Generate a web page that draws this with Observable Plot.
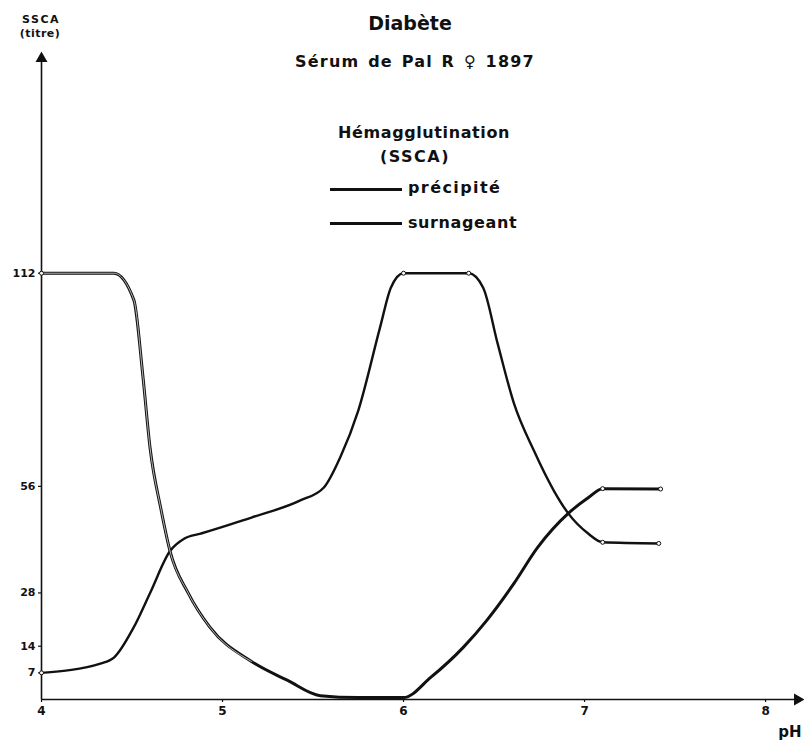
<!DOCTYPE html>
<html><head><meta charset="utf-8">
<script src="https://cdn.jsdelivr.net/npm/d3@7"></script>
<script src="https://cdn.jsdelivr.net/npm/@observablehq/plot@0.6"></script>
<style>
body{margin:0;background:#fff;}
#wrap{position:relative;width:804px;height:744px;font-family:"DejaVu Sans",sans-serif;color:#111;overflow:hidden;}
.t{position:absolute;transform:translate(-50%,-50%);white-space:nowrap;line-height:1;}
.l{position:absolute;transform:translate(0,-50%);white-space:nowrap;line-height:1;}
.sw{position:absolute;height:0;border-top:3px solid #111;}
</style></head>
<body><div id="wrap"></div>
<script>
// ---- data ----
const title = "Diabète";
const subtitle = "Sérum de Pal R ♀ 1897";
const yLabel = ["SSCA", "(titre)"];
const xLabel = "pH";
const legendTitle = ["Hémagglutination", "(SSCA)"];
const seriesNames = ["précipité", "surnageant"];

const xTicks = [4, 5, 6, 7, 8];
const yTicks = [7, 14, 28, 56, 112];

const pHPrecipite = [4, 4.40, 4.51, 4.56, 4.60, 4.66, 4.71, 4.81, 4.93, 5.16, 5.36, 5.54, 5.75, 6.0, 6.15, 6.33, 6.46, 6.61, 6.74, 6.91, 7.02, 7.1, 7.42];
const titrePrecipite = [112, 112, 105, 85, 66, 50, 39, 28, 19, 10, 5, 1, 0.5, 0.5, 5.8, 13.7, 20.8, 30.5, 39.9, 48.9, 53, 55.4, 55.3];

const pHSurnageant = [4, 4.33, 4.40, 4.51, 4.60, 4.71, 4.79, 4.88, 5.16, 5.43, 5.56, 5.65, 5.75, 5.87, 5.93, 6.0, 6.36, 6.44, 6.52, 6.61, 6.72, 6.83, 6.91, 7.02, 7.1, 7.41];
const titreSurnageant = [7, 9.5, 11, 19, 28, 39, 42.3, 43.6, 47.8, 52.3, 55.7, 63.6, 75.9, 97.7, 108.2, 112, 112, 108.2, 93.5, 77.8, 65.4, 54.9, 48.9, 43.6, 41.3, 41];

const markedPrecipite = [4, 7.1, 7.42];
const markedSurnageant = [4, 6.0, 6.36, 7.1, 7.41];

// ---- tables ----
const precipite = pHPrecipite.map((x, i) => ({pH: x, titre: titrePrecipite[i]}));
const surnageant = pHSurnageant.map((x, i) => ({pH: x, titre: titreSurnageant[i]}));
const marks1 = precipite.filter(d => markedPrecipite.includes(d.pH));
const marks2 = surnageant.filter(d => markedSurnageant.includes(d.pH));

const xMax = 8.193, yMax = 169.2;
const ink = "#111";

const chart = Plot.plot({
  width: 804, height: 744,
  marginLeft: 41, marginRight: 4, marginTop: 55, marginBottom: 45,
  x: {domain: [4, xMax]},
  y: {domain: [0, yMax]},
  style: {fontFamily: "DejaVu Sans", fontWeight: "bold", fontSize: "11px", color: ink, background: "white"},
  marks: [
    Plot.ruleX([4], {y1: 0, y2: yMax, stroke: ink, strokeWidth: 1.6}),
    Plot.ruleY([0], {x1: 4, x2: xMax, stroke: ink, strokeWidth: 1.6}),
    Plot.dot([{x: 4, y: yMax}], {x: "x", y: "y", symbol: "triangle", fill: ink, stroke: ink, r: 3.5, dy: 3}),
    Plot.dot([{x: xMax, y: 0}], {x: "x", y: "y", symbol: "triangle", fill: ink, stroke: ink, r: 3.5, rotate: 90, dx: -3}),
    Plot.axisY({ticks: yTicks, tickSize: 3, tickPadding: 3, label: null, stroke: ink, strokeWidth: 1.2, tickFormat: d => String(d), fontSize: 11}),
    Plot.axisX({ticks: xTicks, tickSize: 3, tickPadding: 4, label: null, stroke: ink, strokeWidth: 1.2, tickFormat: d => String(d), fontSize: 12}),
    Plot.line(surnageant, {x: "pH", y: "titre", curve: "monotone-x", stroke: ink, strokeWidth: 2.4}),
    Plot.line(precipite, {x: "pH", y: "titre", curve: "monotone-x", stroke: ink, strokeWidth: 3}),
    Plot.line(precipite.filter(d => d.pH <= 5.2), {x: "pH", y: "titre", curve: "monotone-x", stroke: "white", strokeWidth: 0.7}),
    Plot.dot(marks1, {x: "pH", y: "titre", r: 2, fill: "white", stroke: ink, strokeWidth: 1}),
    Plot.dot(marks2, {x: "pH", y: "titre", r: 2, fill: "white", stroke: ink, strokeWidth: 1})
  ]
});

const wrap = document.getElementById("wrap");
wrap.appendChild(chart);

function txt(s, cls, x, y, css) {
  const d = document.createElement("div");
  d.className = cls; d.textContent = s;
  d.style.left = x + "px"; d.style.top = y + "px";
  Object.assign(d.style, css || {});
  wrap.appendChild(d);
}
function swatch(x, y, w) {
  const d = document.createElement("div");
  d.className = "sw"; d.style.left = x + "px"; d.style.top = (y - 1.5) + "px"; d.style.width = w + "px";
  wrap.appendChild(d);
}
txt(title, "t", 410, 23, {fontSize: "19px", fontWeight: "bold"});
txt(subtitle, "t", 415, 62, {fontSize: "16px", fontWeight: "bold", letterSpacing: "1.2px", wordSpacing: "2px"});
txt(yLabel[0], "t", 41, 19, {fontSize: "11px", fontWeight: "bold", letterSpacing: "1.5px"});
txt(yLabel[1], "t", 40, 33, {fontSize: "11px", fontWeight: "bold", letterSpacing: "0.5px"});
txt(legendTitle[0], "t", 424, 133, {fontSize: "16px", fontWeight: "bold", letterSpacing: "0.6px"});
txt(legendTitle[1], "t", 415, 157, {fontSize: "16px", fontWeight: "bold", letterSpacing: "1.5px"});
swatch(330, 189, 72);
swatch(330, 223, 72);
txt(seriesNames[0], "l", 408, 188, {fontSize: "16px", fontWeight: "bold", letterSpacing: "1.4px"});
txt(seriesNames[1], "l", 408, 223, {fontSize: "16px", fontWeight: "bold", letterSpacing: "0.6px"});
txt(xLabel, "t", 790, 732, {fontSize: "15px", fontWeight: "bold"});
</script></body></html>
